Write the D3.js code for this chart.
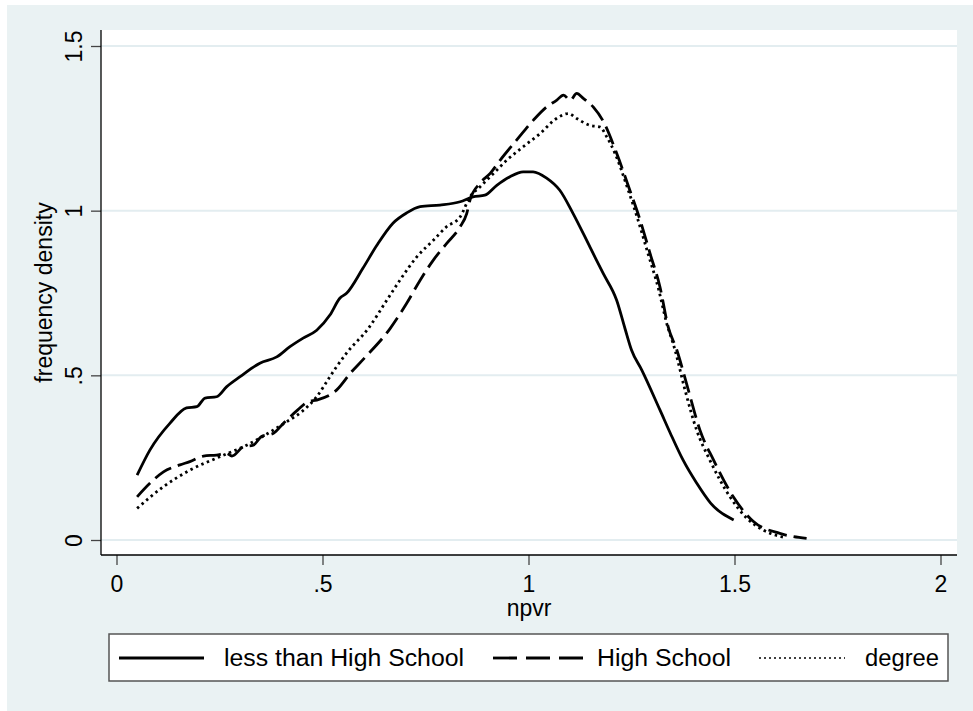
<!DOCTYPE html>
<meta charset="utf-8">
<html>
<head>
<script src="https://d3js.org/d3.v7.min.js"></script>
<style>
  body { margin: 0; background: white; }
  text { font-family: "Liberation Sans", Arial, sans-serif; fill: black; }
</style>
</head>
<body>
<svg id="chart"></svg>
<script>
// kernel density of npvr, by education group
var lessX = [.05,.081,.13,.17,.195,.215,.243,.267,.30,.348,.389,.421,.453,.486,.518,.542,.559,.598,.632,.671,.704,.737,.785,.834,.865,.894,.923,.955,.987,1.011,1.044,1.076,1.108,1.149,1.181,1.214,1.234,1.25,1.275,1.319,1.344,1.375,1.408,1.442,1.498];
var lessY = [.197,.273,.355,.401,.405,.431,.435,.465,.496,.537,.556,.587,.613,.637,.683,.734,.750,.825,.895,.962,.993,1.012,1.017,1.027,1.042,1.047,1.077,1.103,1.118,1.118,1.099,1.062,.992,.890,.810,.728,.643,.577,.516,.395,.325,.243,.173,.112,.061];

var highX = [.05,.081,.114,.154,.178,.211,.243,.267,.280,.308,.332,.352,.381,.405,.44,.465,.486,.534,.57,.60,.664,.704,.737,.769,.801,.834,.850,.858,.882,.907,.931,.971,1.012,1.044,1.068,1.085,1.101,1.117,1.133,1.157,1.182,1.214,1.246,1.271,1.295,1.319,1.339,1.360,1.388,1.416,1.449,1.497,1.546,1.610,1.675];
var highY = [.131,.172,.207,.228,.238,.255,.258,.263,.255,.283,.288,.314,.324,.354,.395,.42,.425,.455,.51,.55,.642,.718,.789,.850,.900,.951,.991,1.032,1.083,1.113,1.153,1.214,1.275,1.315,1.335,1.351,1.335,1.356,1.341,1.315,1.270,1.174,1.062,.971,.870,.769,.647,.577,.455,.334,.243,.131,.056,.020,.005];

var degX = [.05,.114,.178,.251,.316,.381,.413,.45,.486,.518,.534,.56,.611,.656,.688,.729,.769,.801,.834,.858,.882,.915,.947,.987,1.028,1.068,1.097,1.117,1.149,1.174,1.190,1.210,1.24,1.265,1.29,1.315,1.335,1.355,1.380,1.408,1.440,1.489,1.530,1.57,1.62];
var degY = [.096,.162,.212,.253,.288,.334,.359,.39,.435,.496,.526,.57,.642,.728,.789,.860,.910,.951,.981,1.042,1.072,1.113,1.153,1.194,1.234,1.280,1.295,1.280,1.259,1.254,1.224,1.174,1.07,.975,.87,.765,.66,.58,.455,.334,.243,.131,.066,.03,.008];

var xTicks = [0, .5, 1, 1.5, 2];
var xTickLabels = ["0", ".5", "1", "1.5", "2"];
var yTicks = [0, .5, 1, 1.5];
var yTickLabels = ["0", ".5", "1", "1.5"];
var seriesNames = ["less than High School", "High School", "degree"];

var W = 973, H = 711;
var plot = {left: 101, right: 957, top: 30, bottom: 555};

var svg = d3.select("#chart")
    .attr("width", W)
    .attr("height", H);

// outer graph region
svg.append("rect")
    .attr("x", 7).attr("y", 5)
    .attr("width", W - 7).attr("height", H - 5)
    .style("fill", "#eaf2f3");

svg.append("rect")
    .attr("x", plot.left).attr("y", plot.top)
    .attr("width", plot.right - plot.left).attr("height", plot.bottom - plot.top)
    .style("fill", "white");

var x = d3.scaleLinear().domain([0, 2]).range([116.5, 940.5]);
var y = d3.scaleLinear().domain([0, 1.5]).range([540, 46]);

// gridlines
svg.selectAll(".grid")
    .data(yTicks)
    .enter().append("line")
    .attr("x1", plot.left).attr("x2", plot.right)
    .attr("y1", function(d) { return y(d); })
    .attr("y2", function(d) { return y(d); })
    .style("stroke", "#e3edf0")
    .style("stroke-width", 2);

// y axis
var yAxis = svg.append("g")
    .attr("transform", "translate(" + plot.left + ",0)")
    .call(d3.axisLeft(y).tickValues(yTicks).tickSize(10).tickFormat(function(d, i) { return yTickLabels[i]; }));
yAxis.select(".domain").remove();
yAxis.selectAll(".tick line").style("stroke", "#444").style("stroke-width", 1.3);
yAxis.selectAll(".tick text")
    .attr("x", 0).attr("y", 0).attr("dy", null)
    .attr("transform", "translate(-19,0)rotate(-90)")
    .style("text-anchor", "middle")
    .style("font-size", "23px")
    .style("font-family", "Liberation Sans, Arial, sans-serif");

// x axis
var xAxis = svg.append("g")
    .attr("transform", "translate(0," + plot.bottom + ")")
    .call(d3.axisBottom(x).tickValues(xTicks).tickSize(10).tickFormat(function(d, i) { return xTickLabels[i]; }));
xAxis.select(".domain").remove();
xAxis.selectAll(".tick line").style("stroke", "#444").style("stroke-width", 1.3);
xAxis.selectAll(".tick text")
    .attr("y", 37).attr("dy", null)
    .style("font-size", "23px")
    .style("font-family", "Liberation Sans, Arial, sans-serif");

svg.append("line")
    .attr("x1", plot.left).attr("x2", plot.left)
    .attr("y1", plot.top).attr("y2", plot.bottom)
    .style("stroke", "black").style("stroke-width", 1.3);
svg.append("line")
    .attr("x1", plot.left).attr("x2", plot.right)
    .attr("y1", plot.bottom).attr("y2", plot.bottom)
    .style("stroke", "black").style("stroke-width", 1.3);

// axis titles
svg.append("text")
    .attr("transform", "translate(52," + ((plot.top + plot.bottom) / 2) + ")rotate(-90)")
    .attr("text-anchor", "middle")
    .style("font-size", "23px")
    .text("frequency density");
svg.append("text")
    .attr("x", (plot.left + plot.right) / 2)
    .attr("y", 616)
    .attr("text-anchor", "middle")
    .style("font-size", "23px")
    .text("npvr");

// curves
var styles = [
  {dash: null},
  {dash: "19,7"},
  {dash: "2.5,3.5"}
];
var series = [
  d3.zip(lessX, lessY),
  d3.zip(highX, highY),
  d3.zip(degX, degY)
];
var line = d3.line()
    .x(function(d) { return x(d[0]); })
    .y(function(d) { return y(d[1]); })
    .curve(d3.curveMonotoneX);

svg.selectAll(".curve")
    .data(series)
    .enter().append("path")
    .attr("class", "curve")
    .attr("d", line)
    .style("fill", "none")
    .style("stroke", "black")
    .style("stroke-width", 2.8)
    .style("stroke-dasharray", function(d, i) { return styles[i].dash; });

// legend
svg.append("rect")
    .attr("x", 109).attr("y", 634)
    .attr("width", 839).attr("height", 47)
    .style("fill", "white")
    .style("stroke", "#555")
    .style("stroke-width", 1.5);

var legendKeys = [
  {x1: 119, x2: 204, tx: 224, tw: 240, dash: null},
  {x1: 493, x2: 583, tx: 597, tw: 134, dash: "24,9"},
  {x1: 759, x2: 845, tx: 865, tw: 74, dash: "2,3"}
];
var leg = svg.selectAll(".legitem")
    .data(legendKeys)
    .enter().append("g");
leg.append("line")
    .attr("x1", function(d) { return d.x1; })
    .attr("x2", function(d) { return d.x2; })
    .attr("y1", 658).attr("y2", 658)
    .style("stroke", "black")
    .style("stroke-width", function(d, i) { return i == 2 ? 1.6 : 2.8; })
    .style("stroke-dasharray", function(d) { return d.dash; });
leg.append("text")
    .attr("x", function(d) { return d.tx; })
    .attr("y", 666)
    .attr("textLength", function(d) { return d.tw; })
    .attr("lengthAdjust", "spacingAndGlyphs")
    .style("font-size", "23px")
    .text(function(d, i) { return seriesNames[i]; });
</script>
</body>
</html>
